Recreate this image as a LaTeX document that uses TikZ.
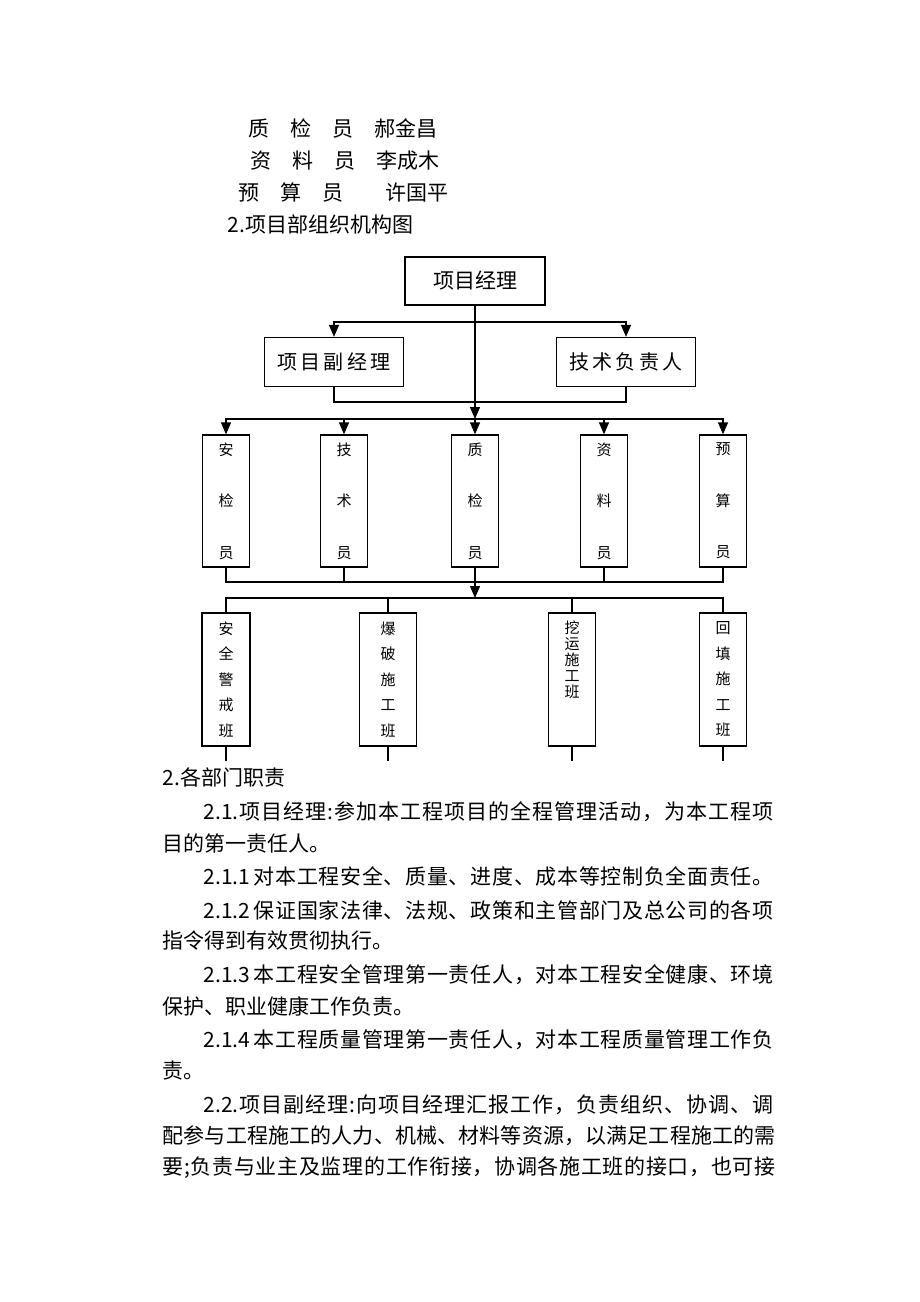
\documentclass[tikz,border=0pt]{standalone}
\usepackage{fontspec}
\setmainfont{Noto Sans CJK SC}
% stretchable glue between CJK characters, for the justified lines
\newcount\cjkchar
\cjkchar="4E00
\loop \XeTeXcharclass\cjkchar=1 \advance\cjkchar by 1 \ifnum\cjkchar<"A000 \repeat
\cjkchar="3000
\loop \XeTeXcharclass\cjkchar=1 \advance\cjkchar by 1 \ifnum\cjkchar<"3040 \repeat
\cjkchar="FF00
\loop \XeTeXcharclass\cjkchar=1 \advance\cjkchar by 1 \ifnum\cjkchar<"FFF0 \repeat
\XeTeXinterchartokenstate=1
\XeTeXinterchartoks 1 1 = {\hskip 0pt plus 1pt}
\XeTeXinterchartoks 0 1 = {\hskip 0pt plus 1pt}
\XeTeXinterchartoks 1 0 = {\hskip 0pt plus 1pt}
\usetikzlibrary{arrows.meta,positioning}

\begin{document}
\begin{tikzpicture}[
  x=0.5pt, y=-0.5pt,
  line width=0.65pt,
  every node/.style={inner sep=0pt},
  line/.style={anchor=west, font=\fontsize{10.5}{12}\selectfont},
  head/.style={draw, minimum width=70pt, minimum height=24pt,
               font=\fontsize{10.5}{12}\selectfont},
  deputy/.style={draw, minimum width=69.5pt, minimum height=24.5pt,
                 font=\fontsize{10}{12}\selectfont},
  post/.style={draw, minimum width=23.5pt, minimum height=66pt, align=center,
               font=\fontsize{7.5}{25.75}\selectfont},
  crew/.style={draw, minimum height=66.5pt, align=center,
               font=\fontsize{7.5}{12.75}\selectfont},
  arr/.style={-{Triangle[length=6pt,width=5pt]}}
]
\useasboundingbox (0,0) rectangle (920,1302);

% staff list above the chart
\node[line] (staff1) at (248,128) {质　检　员　郝金昌};
\node[line] (staff2) at (250,161) {资　料　员　李成木};
\node[line] (staff3) at (238,193) {预　算　员　　许国平};
\node[line] (title)  at (227,224) {2.项目部组织机构图};

% chart
\node[head] (pm) at (475,281) {项目经理};
\node[deputy] (vpm)   at (334,362) {项\,目\,副\,经\,理};
\node[deputy] (chief) at (626,362) {技\,术\,负\,责\,人};
\coordinate (fork)  at (475,322);
\coordinate (merge) at (475,402);
\coordinate (bar)   at (475,419);

\node[post] (aj) at (226,501) {安\\检\\员};
\node[post] (js) at (344,501) {技\\术\\员};
\node[post] (zj) at (475,501) {质\\检\\员};
\node[post] (zl) at (604,501) {资\\料\\员};
\node[post] (ys) at (723,501) {预\\算\\员};
\coordinate (merge2) at (475,582);
\coordinate (bar2)   at (475,598);

\node[crew, minimum width=24pt]   (aq) at (226,679.5) {安\\全\\警\\戒\\班};
\node[crew, minimum width=28.5pt] (bp) at (388,679.5) {爆\\破\\施\\工\\班};
\node[crew, minimum width=23.5pt] (wy) at (572,679.5) {};
\node[crew, minimum width=23.5pt] (ht) at (723,679.5) {回\\填\\施\\工\\班};
\node[anchor=north, align=center, font=\fontsize{7.5}{8}\selectfont]
  (wytext) at ([yshift=-4pt]wy.north) {挖\\运\\施\\工\\班};

\draw[arr] (pm.south) -- (bar);
\draw[arr] (fork) -| (vpm.north);
\draw[arr] (fork) -| (chief.north);
\draw (vpm.south) |- (merge) -| (chief.south);
\foreach \n in {aj,js,zj,zl,ys}
  \draw[arr] (bar) -| (\n.north);
\draw (aj.south) |- (merge2) -| (ys.south);
\foreach \n in {js,zl}
  \draw (\n.south) |- (merge2);
\draw[arr] (zj.south) -- (bar2);
\foreach \n in {aq,bp,wy,ht} {
  \draw (bar2) -| (\n.north);
  \draw (\n.south) -- ++(0,14);
}

% duties text: full lines are stretched to the right margin
\foreach \x/\y/\w/\t in {
  203/812/285/{2.1.项目经理:参加本工程项目的全程管理活动，为本工程项},
  203/876/285/{2.1.1\,对本工程安全、质量、进度、成本等控制负全面责任。},
  203/910/285/{2.1.2\,保证国家法律、法规、政策和主管部门及总公司的各项},
  203/975/285/{2.1.3\,本工程安全管理第一责任人，对本工程安全健康、环境},
  203/1040/285/{2.1.4\,本工程质量管理第一责任人，对本工程质量管理工作负},
  203/1105/285/{2.2.项目副经理:向项目经理汇报工作，负责组织、协调、调},
  162/1136/306.5/{配参与工程施工的人力、机械、材料等资源，以满足工程施工的需},
  162/1168/306.5/{要;负责与业主及监理的工作衔接，协调各施工班的接口，也可接}}
  \node[line] (full\y) at (\x,\y) {\makebox[\w pt][s]{\t}};
\foreach \y/\t in {
  777/{2.各部门职责},
  843/{目的第一责任人。},
  941/{指令得到有效贯彻执行。},
  1006/{保护、职业健康工作负责。},
  1071/{责。}}
  \node[line] (short\y) at (162,\y) {\t};
\end{tikzpicture}
\end{document}
